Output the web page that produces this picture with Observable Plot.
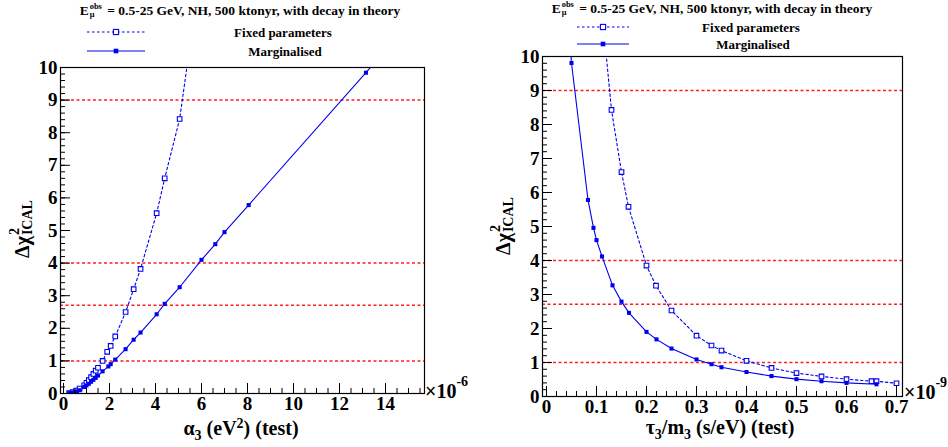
<!DOCTYPE html>
<html><head><meta charset="utf-8">
<script src="https://cdn.jsdelivr.net/npm/d3@7"></script>
<script src="https://cdn.jsdelivr.net/npm/@observablehq/plot@0.6"></script>
<style>
body{margin:0;background:#fff;}
#wrap{position:relative;width:948px;height:447px;overflow:hidden;font-family:"Liberation Serif","Times New Roman",serif;font-weight:bold;color:#000;background:#fff;}
#wrap svg, #wrap svg text, #wrap div{font-family:"Liberation Serif","Times New Roman",serif !important;font-weight:bold !important;}
.abs{position:absolute;white-space:nowrap;line-height:1;}
.c{transform:translate(-50%,-50%);}
.ss{display:inline-block;vertical-align:middle;line-height:0.9;font-size:0.62em;margin:0 2px 0 1px;position:relative;top:-0.15em;}
.ss span{display:block;}
.title{font-size:13.5px;}
.leg{font-size:13px;}
.axt{font-size:20px;}
.rot{transform:translate(-50%,-50%) rotate(-90deg);}
.exp{font-size:20px;}
.exp sup{font-size:14px;position:relative;top:-4px;}
svg.plot{position:absolute;top:0;}
</style>
</head><body><div id="wrap"></div>
<script>
// ---------------- data ----------------
// thresholds (horizontal red lines)
const levels = [1, 2.71, 4, 9];

// Left panel: alpha_3 (x 1e-6 eV^2)
const alphaFixedX = [0.25, 0.4, 0.55, 0.7, 0.9, 1.0, 1.1, 1.2, 1.3, 1.4, 1.5, 1.7, 1.9, 2.05, 2.25, 2.7, 3.05, 3.35, 4.05, 4.4, 5.05, 6.0];
const alphaFixedY = [0.01, 0.04, 0.09, 0.15, 0.25, 0.33, 0.41, 0.5, 0.6, 0.7, 0.79, 1.0, 1.28, 1.46, 1.75, 2.5, 3.2, 3.82, 5.53, 6.6, 8.42, 13.2];
const alphaMargX = [0.25, 0.4, 0.55, 0.7, 0.9, 1.0, 1.1, 1.2, 1.3, 1.4, 1.5, 1.7, 1.95, 2.05, 2.25, 2.7, 3.05, 3.35, 4.05, 4.4, 5.05, 6.0, 6.6, 7.0, 8.05, 13.15, 14.0];
const alphaMargY = [0.01, 0.03, 0.06, 0.1, 0.2, 0.25, 0.3, 0.36, 0.42, 0.48, 0.55, 0.68, 0.83, 0.9, 1.04, 1.36, 1.65, 1.87, 2.43, 2.75, 3.26, 4.1, 4.58, 4.95, 5.78, 9.84, 10.55];
const alphaMajor = [0, 2, 4, 6, 8, 10, 12, 14];
const alphaMinor = d3.range(0, 15.6, 0.5);

// Right panel: tau_3/m_3 (x 1e-9 s/eV)
const tauFixedX = [0.1, 0.13, 0.15, 0.164, 0.2, 0.219, 0.25, 0.3, 0.33, 0.35, 0.4, 0.45, 0.5, 0.55, 0.6, 0.65, 0.66, 0.7];
const tauFixedY = [13.0, 8.43, 6.6, 5.58, 3.85, 3.26, 2.53, 1.79, 1.5, 1.35, 1.05, 0.84, 0.69, 0.59, 0.51, 0.45, 0.45, 0.39];
const tauMargX = [0.04, 0.05, 0.083, 0.094, 0.1, 0.111, 0.132, 0.15, 0.165, 0.2, 0.22, 0.25, 0.3, 0.33, 0.35, 0.4, 0.45, 0.5, 0.55, 0.6, 0.66];
const tauMargY = [11.8, 9.81, 5.78, 4.96, 4.6, 4.12, 3.27, 2.79, 2.46, 1.9, 1.68, 1.41, 1.09, 0.95, 0.86, 0.72, 0.6, 0.51, 0.45, 0.4, 0.36];
const tauMajor = [0, 0.1, 0.2, 0.3, 0.4, 0.5, 0.6, 0.7];
const tauMinor = d3.range(0, 0.711, 0.02);

const yMajor = d3.range(0, 11, 1);
const yMinor = d3.range(0, 10.01, 0.2);

const titleHTML = 'E<span class="ss"><span>obs</span><span>μ</span></span> = 0.5-25 GeV, NH, 500 ktonyr, with decay in theory';
const legendLabels = ["Fixed parameters", "Marginalised"];

// ---------------- drawing ----------------
const BLUE = "#0000ee";
const SERIF = '"Liberation Serif", "Times New Roman", serif';
const wrap = document.getElementById("wrap");

function zip(xs, ys){ return xs.map((x,i)=>({x, y: ys[i]})); }

function panel(o){
  const fixed = zip(o.fx, o.fy), marg = zip(o.mx, o.my);
  const p = Plot.plot({
    width: 474, height: 447,
    marginLeft: o.ml, marginRight: o.mr, marginTop: o.mt, marginBottom: o.mb,
    x: {domain: o.xdom, axis: null},
    y: {domain: [0, 10], axis: null},
    style: {fontFamily: SERIF, fontWeight: "bold", fontSize: "19px", color: "#000", background: "transparent", overflow: "visible"},
    marks: [
      Plot.ruleY(levels, {stroke: "#ff2020", strokeWidth: 1.5, strokeDasharray: "3,2.5"}),
      Plot.line(fixed, {x: "x", y: "y", stroke: BLUE, strokeWidth: 1.1, strokeDasharray: "2.5,2.5", clip: true}),
      Plot.line(marg, {x: "x", y: "y", stroke: BLUE, strokeWidth: 1.1, clip: true}),
      Plot.dot(fixed, {x: "x", y: "y", symbol: "square", r: 2.6, stroke: BLUE, strokeWidth: 1.1, fill: "white", clip: true}),
      Plot.dot(marg, {x: "x", y: "y", symbol: "square", r: 2.3, fill: BLUE, stroke: "none", clip: true}),
      Plot.axisX({ticks: o.minor, tickSize: -5, tickFormat: () => "", label: null, stroke: "#000"}),
      Plot.axisX({ticks: o.major, tickSize: -10, tickFormat: () => "", label: null, stroke: "#000"}),
      Plot.axisX({ticks: o.major, tickSize: 0, tickPadding: 3, tickFormat: o.fmt, label: null, fill: "#000"}),
      Plot.axisY({ticks: yMinor, tickSize: -5, tickFormat: () => "", label: null, stroke: "#000"}),
      Plot.axisY({ticks: yMajor, tickSize: -10, tickFormat: () => "", label: null, stroke: "#000"}),
      Plot.axisY({ticks: yMajor, tickSize: 0, tickPadding: 3, tickFormat: d => String(d), label: null, fill: "#000"}),
      Plot.frame({stroke: "#000", strokeWidth: 1.2})
    ]
  });
  p.classList.add("plot");
  p.style.left = o.left + "px";
  wrap.appendChild(p);
}

function text(html, x, y, cls){
  const d = document.createElement("div");
  d.className = "abs " + cls;
  d.style.left = x + "px"; d.style.top = y + "px";
  d.innerHTML = html;
  wrap.appendChild(d);
}

function legendSym(x1, x2, y, dashed){
  const s = `<svg width="${x2-x1+10}" height="12" style="position:absolute;left:${x1-5}px;top:${y-6}px;overflow:visible">
   <line x1="5" x2="${x2-x1+5}" y1="6" y2="6" stroke="${BLUE}" stroke-width="1.1" ${dashed ? 'stroke-dasharray="2.5,2.5"' : ''}/>
   ${dashed ? `<rect x="${(x2-x1)/2+5-2.6}" y="3.4" width="5.2" height="5.2" fill="white" stroke="${BLUE}" stroke-width="1.1"/>`
            : `<rect x="${(x2-x1)/2+5-2.3}" y="3.7" width="4.6" height="4.6" fill="${BLUE}"/>`}
  </svg>`;
  wrap.insertAdjacentHTML("beforeend", s);
}

// Left panel
panel({left: 0, ml: 60, mr: 50, mt: 67, mb: 54, xdom: [-3/23, 361/23],
  fx: alphaFixedX, fy: alphaFixedY, mx: alphaMargX, my: alphaMargY,
  major: alphaMajor, minor: alphaMinor, fmt: d => String(d)});
// Right panel
panel({left: 474, ml: 68, mr: 46, mt: 56, mb: 51, xdom: [-0.008, 0.712],
  fx: tauFixedX, fy: tauFixedY, mx: tauMargX, my: tauMargY,
  major: tauMajor, minor: tauMinor, fmt: d => d === 0 ? "0" : d.toFixed(1)});

// Titles and legends
text(titleHTML, 240, 12, "c title");
legendSym(87, 145, 32, true);
text(legendLabels[0], 283, 32, "c leg");
legendSym(87, 145, 51, false);
text(legendLabels[1], 285, 51, "c leg");

text(titleHTML, 712, 10, "c title");
legendSym(577, 629, 27, true);
text(legendLabels[0], 751, 27, "c leg");
legendSym(577, 629, 44, false);
text(legendLabels[1], 753, 44, "c leg");

// Axis titles
text('α<sub style="font-size:14px">3</sub> (eV<sup style="font-size:14px">2</sup>) (test)', 241, 430, "c axt");
text('τ<sub style="font-size:14px">3</sub>/m<sub style="font-size:14px">3</sub> (s/eV) (test)', 720, 429, "c axt");
text('Δχ<span class="ss" style="font-size:14px;vertical-align:middle"><span>2</span><span>ICAL</span></span>', 24, 228, "rot axt");
text('Δχ<span class="ss" style="font-size:14px;vertical-align:middle"><span>2</span><span>ICAL</span></span>', 505, 225, "rot axt");

// Exponent labels
text('×10<sup>-6</sup>', 425, 379, "exp");
text('×10<sup>-9</sup>', 904, 380, "exp");
</script>
</body></html>
